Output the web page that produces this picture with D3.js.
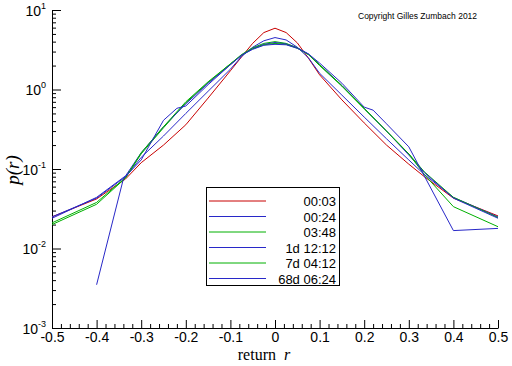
<!DOCTYPE html>
<html>
<head>
<meta charset="utf-8">
<script src="https://cdn.jsdelivr.net/npm/d3@7"></script>
<style>
  html, body { margin: 0; padding: 0; background: #fff; }
  svg { display: block; }
</style>
</head>
<body>
<svg id="chart" width="512" height="366"></svg>
<script>
// ---- data ----
const returnBins = [-0.5, -0.4, -0.335, -0.3, -0.25, -0.2, -0.15, -0.1, -0.075, -0.05, -0.025, 0, 0.025, 0.05, 0.075, 0.1, 0.15, 0.2, 0.25, 0.3, 0.335, 0.4, 0.5];
const returnBins68d = [-0.4, -0.34, -0.3, -0.25, -0.22, -0.2, -0.15, -0.1, -0.075, -0.05, -0.025, 0, 0.025, 0.05, 0.075, 0.1, 0.15, 0.2, 0.22, 0.25, 0.3, 0.4, 0.5];

const p0003 = [0.025, 0.042, 0.075, 0.12, 0.20, 0.36, 0.78, 1.72, 2.57, 3.81, 5.2, 5.9, 5.2, 3.86, 2.48, 1.53, 0.74, 0.38, 0.20, 0.115, 0.08, 0.043, 0.0257];
const p0024 = [0.025, 0.043, 0.08, 0.14, 0.26, 0.5, 0.95, 1.8, 2.6, 3.4, 4.1, 4.5, 4.2, 3.4, 2.5, 1.6, 0.85, 0.45, 0.24, 0.13, 0.085, 0.044, 0.025];
const p0348 = [0.021, 0.038, 0.078, 0.155, 0.33, 0.68, 1.22, 2.1, 2.75, 3.35, 3.8, 4.0, 3.8, 3.35, 2.75, 2.0, 1.1, 0.57, 0.3, 0.155, 0.092, 0.044, 0.0245];
const p1d1212 = [0.024, 0.044, 0.082, 0.16, 0.34, 0.66, 1.2, 2.05, 2.7, 3.3, 3.7, 3.9, 3.75, 3.35, 2.8, 2.05, 1.12, 0.58, 0.3, 0.15, 0.09, 0.043, 0.024];
const p7d0412 = [0.020, 0.036, 0.077, 0.16, 0.34, 0.70, 1.25, 2.1, 2.7, 3.25, 3.65, 3.8, 3.7, 3.3, 2.75, 2.05, 1.12, 0.58, 0.3, 0.155, 0.085, 0.0336, 0.0188];
const p68d0624 = [0.0035, 0.075, 0.13, 0.41, 0.58, 0.62, 1.15, 2.05, 2.7, 3.2, 3.6, 3.7, 3.65, 3.3, 2.8, 2.15, 1.2, 0.6, 0.55, 0.37, 0.19, 0.0168, 0.0179];

const seriesLabels = ["00:03", "00:24", "03:48", "1d 12:12", "7d 04:12", "68d 06:24"];
const seriesColors = ["#c80000", "#2828c8", "#00b000", "#2828c8", "#00b000", "#2828c8"];

const xTicks = [-0.5, -0.4, -0.3, -0.2, -0.1, 0, 0.1, 0.2, 0.3, 0.4, 0.5];
const yTicks = [1e-3, 1e-2, 1e-1, 1e0, 1e1];
const yTickExponents = ["-3", "-2", "-1", "0", "1"];

// ---- build ----
const series = [
  {label: seriesLabels[0], color: seriesColors[0], xs: returnBins, ys: p0003},
  {label: seriesLabels[1], color: seriesColors[1], xs: returnBins, ys: p0024},
  {label: seriesLabels[2], color: seriesColors[2], xs: returnBins, ys: p0348},
  {label: seriesLabels[3], color: seriesColors[3], xs: returnBins, ys: p1d1212},
  {label: seriesLabels[4], color: seriesColors[4], xs: returnBins, ys: p7d0412},
  {label: seriesLabels[5], color: seriesColors[5], xs: returnBins68d, ys: p68d0624}
];

const svg = d3.select("#chart");
const x = d3.scaleLinear().domain([-0.5, 0.5]).range([52, 498]);
const y = d3.scaleLog().domain([1e-3, 1e1]).range([328, 10]);

const tickFont = "'Liberation Sans', Arial, sans-serif";

// minor ticks
const xMinor = d3.range(-50, 51, 2).filter(i => i % 10 !== 0).map(i => i / 100);
const yMinor = [];
for (let e = -3; e < 1; e++) for (let m = 2; m <= 9; m++) yMinor.push(m * Math.pow(10, e));

svg.append("g").attr("transform", "translate(0,328)")
  .call(d3.axisBottom(x).tickValues(xMinor).tickSizeInner(-4).tickSizeOuter(0).tickFormat(""))
  .call(g => g.select(".domain").remove());
svg.append("g").attr("transform", "translate(52,0)")
  .call(d3.axisLeft(y).tickValues(yMinor).tickSizeInner(-4).tickSizeOuter(0).tickFormat(""))
  .call(g => g.select(".domain").remove());

// major x axis
const gx = svg.append("g").attr("transform", "translate(0,328)")
  .call(d3.axisBottom(x).tickValues(xTicks).tickSizeInner(-8).tickSizeOuter(0).tickPadding(4)
    .tickFormat(v => v === 0 ? "0" : v.toFixed(1)));
gx.selectAll("text").attr("font-family", tickFont).attr("font-size", 14).attr("fill", "#000");

// major y axis
const gy = svg.append("g").attr("transform", "translate(52,0)")
  .call(d3.axisLeft(y).tickValues(yTicks).tickSizeInner(-9).tickSizeOuter(0).tickPadding(6).tickFormat(""));
gy.selectAll(".tick text").each(function(d, i) {
  const t = d3.select(this);
  t.attr("font-family", tickFont).attr("font-size", 14).attr("fill", "#000").attr("dy", "0.36em");
  t.append("tspan").text("10");
  t.append("tspan").attr("font-size", 9).attr("dy", "-0.75em").text(yTickExponents[i]);
});

svg.selectAll(".domain, .tick line").attr("stroke", "#000").attr("stroke-width", 1);

// lines
const line = d3.line().x(d => x(d[0])).y(d => y(d[1]));
svg.append("g").selectAll("path").data(series).join("path")
  .attr("d", s => line(s.xs.map((v, i) => [v, s.ys[i]])))
  .attr("fill", "none")
  .attr("stroke", s => s.color)
  .attr("stroke-width", 1);

// legend
const lg = svg.append("g");
lg.append("rect").attr("x", 206.5).attr("y", 187.5).attr("width", 133).attr("height", 98)
  .attr("fill", "#fff").attr("stroke", "#000").attr("stroke-width", 1);
const rowY = i => 201 + i * 15.5;
series.forEach((s, i) => {
  lg.append("line").attr("x1", 209).attr("x2", 266).attr("y1", rowY(i)).attr("y2", rowY(i))
    .attr("stroke", s.color).attr("stroke-width", 1);
  lg.append("text").attr("x", 336).attr("y", rowY(i) + 5).attr("text-anchor", "end")
    .attr("font-family", tickFont).attr("font-size", 13).attr("fill", "#000").text(s.label);
});

// axis titles
const xt = svg.append("text").attr("x", 264).attr("y", 360).attr("text-anchor", "middle")
  .attr("font-family", "'Liberation Serif', 'Times New Roman', serif").attr("font-size", 16).attr("fill", "#000");
xt.append("tspan").text("return");
xt.append("tspan").attr("dx", 8).attr("font-style", "italic").text("r");

svg.append("text").attr("transform", "translate(19,170) rotate(-90)").attr("text-anchor", "middle")
  .attr("font-family", "'Liberation Serif', 'Times New Roman', serif").attr("font-size", 19)
  .attr("font-style", "italic").attr("fill", "#000").text("p(r)");

svg.append("text").attr("x", 358).attr("y", 19)
  .attr("font-family", tickFont).attr("font-size", 8.5).attr("fill", "#000")
  .text("Copyright Gilles Zumbach 2012");
</script>
</body>
</html>
